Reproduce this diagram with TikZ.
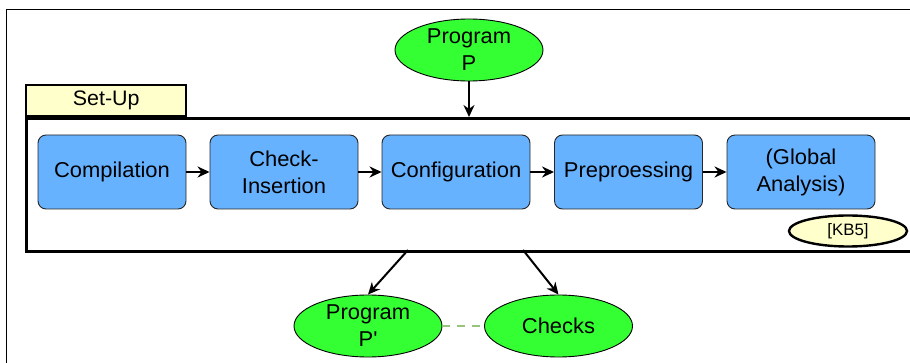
\documentclass[tikz,border=0pt]{standalone}
\usepackage{fontspec}
\setmainfont{Liberation Sans}[FakeStretch=1.02]
\usetikzlibrary{shapes.geometric,arrows.meta}

\definecolor{stepblue}{HTML}{66B2FF}
\definecolor{inputgreen}{HTML}{33FF33}
\definecolor{notefill}{HTML}{FFFFCC}
\definecolor{linkgreen}{HTML}{97C37B}

\begin{document}
\begin{tikzpicture}[x=1pt,y=-1pt,
  txt/.style={font=\fontsize{21.5}{27}\selectfont},
  stepbox/.style={txt, draw=black!85, line width=0.9pt, fill=stepblue,
    rounded corners=8pt, minimum width=148pt, minimum height=74pt,
    align=center, inner sep=0pt},
  blob/.style={txt, ellipse, draw=black, line width=0.9pt, fill=inputgreen,
    minimum width=148pt, minimum height=62pt, align=center, inner sep=0pt},
  flow/.style={-{Stealth[length=12pt,width=11pt]}, line width=2pt},
]
\useasboundingbox (0,0) rectangle (910,363);
\clip (0,0) rectangle (910,363);

% outer frame
\draw[line width=1pt] (6.5,10) rectangle (940,390);

% set-up container and its tab
\node[draw, line width=2.6pt, minimum width=915pt, minimum height=133pt,
  anchor=north west, inner sep=0pt] (setup) at (25,117) {};
\node[draw, line width=2.4pt, fill=notefill, minimum width=160pt,
  minimum height=31pt, anchor=south west, inner sep=0pt,
  font=\fontsize{21}{24}\selectfont] (tab) at (25,117) {Set-Up};

% input program
\node[blob] (pp) at (469,50) {Program\\P};
\draw[flow] (pp.south) -- (pp.south |- setup.north);

% processing steps
\node[stepbox] (b1) at (112,172) {Compilation};
\node[stepbox] (b2) at (284,172) {Check-\\Insertion};
\node[stepbox] (b3) at (456,172) {Configuration};
\node[stepbox] (b4) at (628.5,172) {Preproessing};
\node[stepbox] (b5) at (801,172) {(Global\\Analysis)};
\draw[flow] (b1) -- (b2);
\draw[flow] (b2) -- (b3);
\draw[flow] (b3) -- (b4);
\draw[flow] (b4) -- (b5);

% reference tag
\node[ellipse, draw, line width=2.4pt, fill=notefill, minimum width=118pt,
  minimum height=31pt, inner sep=0pt, font=\fontsize{16.5}{18}\selectfont]
  (kb) at (848,231) {[KB5]};

% outputs
\node[blob] (ppr) at (368,326) {Program\\P\textquotesingle};
\node[blob] (chk) at (558.5,326) {Checks};
\coordinate (o1) at (408,250);
\coordinate (o2) at (523,250);
\draw[flow] (o1) -- (ppr.north);
\draw[flow] (o2) -- (chk.north);
\draw[linkgreen, line width=2pt, dash pattern=on 8pt off 7pt]
  (ppr.east) -- (chk.west);
\end{tikzpicture}
\end{document}
